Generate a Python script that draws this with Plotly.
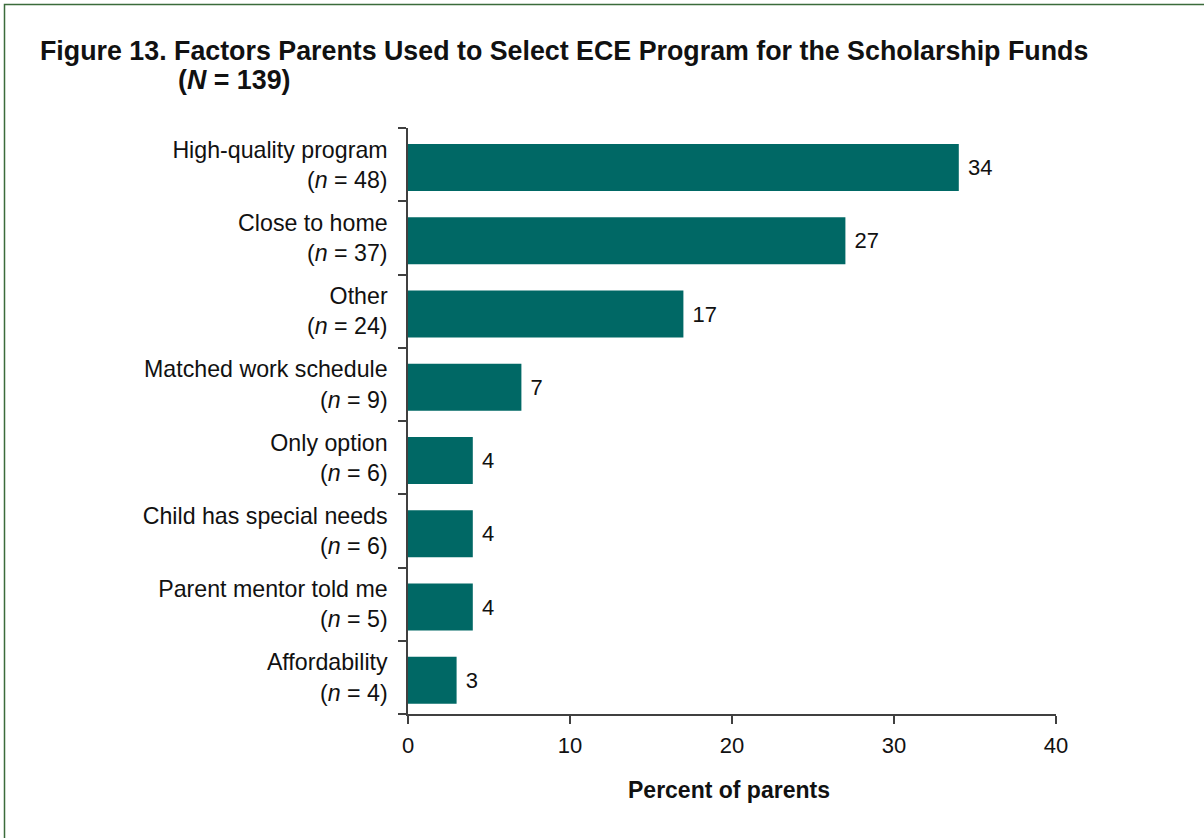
import plotly.graph_objects as go

# Selection factors, top to bottom as listed
factors = [
    "High-quality program",
    "Close to home",
    "Other",
    "Matched work schedule",
    "Only option",
    "Child has special needs",
    "Parent mentor told me",
    "Affordability",
]
counts = [48, 37, 24, 9, 6, 6, 5, 4]
percents = [34, 27, 17, 7, 4, 4, 4, 3]
x_ticks = [0, 10, 20, 30, 40]

W, H = 1204, 838
L, R, T, B = 408, 148, 128, 124
PW, PH = W - L - R, H - T - B

FONT = "Liberation Sans, Arial, sans-serif"
BAR = "#006865"
AXIS = "#404040"
INK = "#111111"

labels = [f"{f}<br>(<i>n</i> = {c})" for f, c in zip(factors, counts)]

fig = go.Figure(
    go.Bar(
        x=percents,
        y=labels,
        orientation="h",
        marker=dict(color=BAR, line=dict(width=0)),
        width=0.64,
        offset=-0.36,
        text=[" " + str(p) for p in percents],
        textposition="outside",
        textfont=dict(family=FONT, size=22, color=INK),
        cliponaxis=False,
        hoverinfo="skip",
    )
)


def px_x(px):
    return (px - L) / PW


def px_y(py):
    return (H - B - py) / PH


fig.update_layout(
    width=W,
    height=H,
    margin=dict(l=L, r=R, t=T, b=B, pad=0),
    paper_bgcolor="white",
    plot_bgcolor="white",
    showlegend=False,
    font=dict(family=FONT, size=22, color=INK),
    xaxis=dict(
        range=[0, 40],
        tickvals=x_ticks,
        ticktext=[str(v) for v in x_ticks],
        showgrid=False,
        zeroline=False,
        showline=True,
        linecolor=AXIS,
        linewidth=1.5,
        ticks="outside",
        ticklen=8,
        tickwidth=1.5,
        tickcolor=AXIS,
        ticklabelstandoff=3,
        tickfont=dict(family=FONT, size=22, color=INK),
        fixedrange=True,
    ),
    yaxis=dict(
        categoryorder="array",
        categoryarray=labels[::-1],
        autorange=False,
        range=[-0.5, len(labels) - 0.5],
        showgrid=False,
        zeroline=False,
        showline=True,
        linecolor=AXIS,
        linewidth=1.5,
        ticks="outside",
        tickson="boundaries",
        ticklen=8,
        tickwidth=1.5,
        tickcolor=AXIS,
        ticklabelstandoff=14,
        tickfont=dict(family=FONT, size=23.2, color=INK),
        fixedrange=True,
    ),
    annotations=[
        dict(
            text="<b>Figure 13. Factors Parents Used to Select ECE Program for the Scholarship Funds</b>",
            xref="paper", yref="paper",
            x=px_x(38), y=px_y(51),
            xanchor="left", yanchor="middle",
            showarrow=False,
            font=dict(family=FONT, size=26.8, color=INK),
        ),
        dict(
            text="<b>(<i>N</i> = 139)</b>",
            xref="paper", yref="paper",
            x=px_x(176), y=px_y(80),
            xanchor="left", yanchor="middle",
            showarrow=False,
            font=dict(family=FONT, size=26.8, color=INK),
        ),
        dict(
            text="<b>Percent of parents</b>",
            xref="paper", yref="paper",
            x=px_x(729), y=px_y(790),
            xanchor="center", yanchor="middle",
            showarrow=False,
            font=dict(family=FONT, size=23, color=INK),
        ),
    ],
    shapes=[
        dict(
            type="rect",
            xref="paper", yref="paper",
            x0=px_x(4.5), x1=px_x(1215),
            y0=px_y(850), y1=px_y(4.5),
            line=dict(color="#3b6b3b", width=1.5),
            fillcolor="rgba(0,0,0,0)",
            layer="above",
        )
    ],
)

fig.write_html("out.html")
